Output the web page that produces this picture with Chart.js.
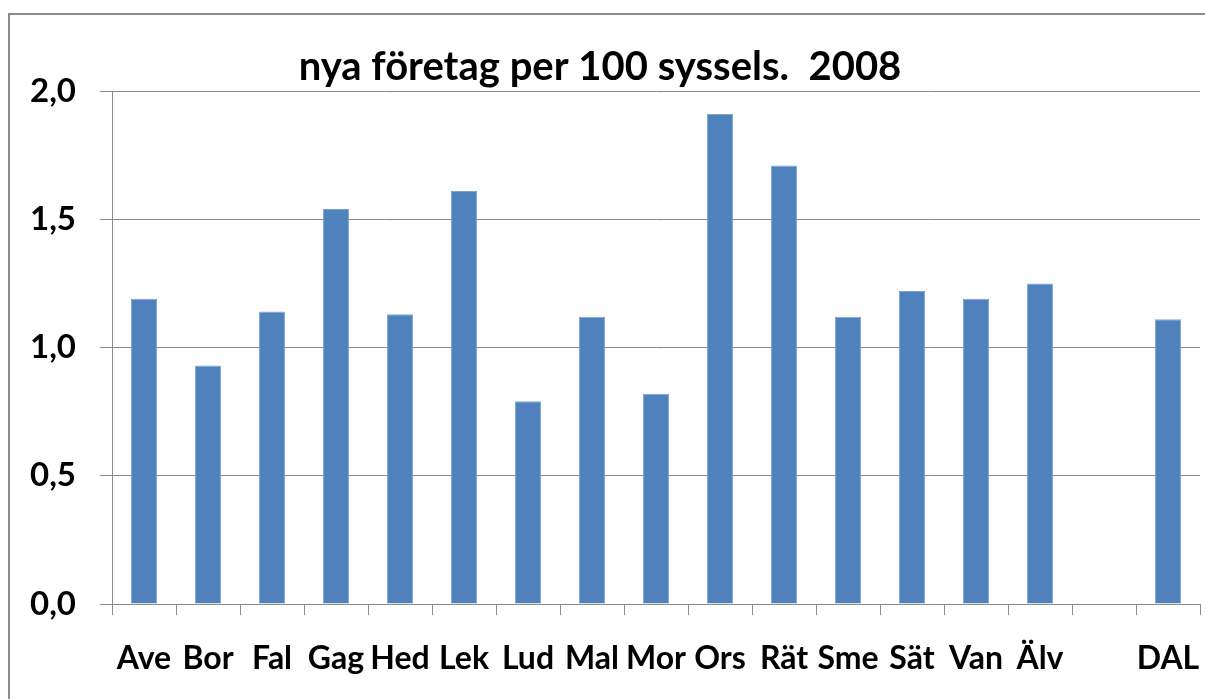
<!DOCTYPE html>
<html>
<head>
<meta charset="utf-8">
<script src="https://cdn.jsdelivr.net/npm/chart.js@4"></script>
<style>
    body { margin: 0; background: #fff; overflow: hidden; }
    .frame {
        position: absolute; left: 8px; top: 13px; width: 1300px; height: 800px;
        border: 2px solid #8c8c8c;
    }
    .chart-box { position: absolute; left: 0; top: 0; width: 1205px; height: 699px; }
</style>
</head>
<body>
<div class="frame"></div>
<div class="chart-box"><canvas id="chart"></canvas></div>
<script>
// Chart data
const categories = ['Ave', 'Bor', 'Fal', 'Gag', 'Hed', 'Lek', 'Lud', 'Mal', 'Mor', 'Ors', 'Rät', 'Sme', 'Sät', 'Van', 'Älv', '', 'DAL'];
const newCompanies = [1.19, 0.93, 1.14, 1.54, 1.13, 1.61, 0.79, 1.12, 0.82, 1.91, 1.71, 1.12, 1.22, 1.19, 1.25, null, 1.11];
const yTicks = [0, 0.5, 1.0, 1.5, 2.0];

const titleText = 'nya företag per 100 syssels.  2008';
const fontFamily = 'Lato, "Open Sans", sans-serif';

const ctx = document.getElementById('chart');
new Chart(ctx, {
    type: 'bar',
    data: {
        labels: categories,
        datasets: [{
            data: newCompanies,
            backgroundColor: '#4f81bd',
            borderColor: '#7fa3d0',
            borderWidth: { top: 1, left: 1, right: 1, bottom: 0 },
            barPercentage: 0.41,
            categoryPercentage: 1.0
        }]
    },
    options: {
        responsive: true,
        maintainAspectRatio: false,
        animation: false,
        layout: { padding: { left: 0, right: 5, top: 0, bottom: 0 } },
        plugins: {
            legend: { display: false },
            tooltip: { enabled: false },
            title: {
                display: true,
                text: titleText,
                color: '#000',
                font: { family: fontFamily, size: 40, weight: 'bold' },
                padding: { top: 43, bottom: 0 }
            }
        },
        scales: {
            x: {
                grid: {
                    offset: true,
                    drawOnChartArea: false,
                    color: '#8c8c8c',
                    tickLength: 11
                },
                border: { color: '#8c8c8c', width: 1 },
                ticks: {
                    color: '#000',
                    autoSkip: false,
                    maxRotation: 0,
                    padding: 24,
                    font: { family: fontFamily, size: 32, weight: 'bold' }
                },
                afterFit: (scale) => {
                    scale.height = 95;
                    scale.paddingLeft = 0;
                    scale.paddingRight = 0;
                }
            },
            y: {
                min: 0,
                max: 2,
                afterBuildTicks: (scale) => {
                    scale.ticks = yTicks.map(v => ({ value: v }));
                },
                grid: {
                    color: '#8c8c8c',
                    tickLength: 12
                },
                border: { color: '#8c8c8c', width: 1 },
                ticks: {
                    color: '#000',
                    padding: 24,
                    font: { family: fontFamily, size: 33, weight: 'bold' },
                    callback: (v) => Number(v).toFixed(1).replace('.', ',')
                },
                afterFit: (scale) => {
                    scale.width = 112;
                    scale.paddingTop = 0;
                    scale.paddingBottom = 0;
                }
            }
        }
    }
});
</script>
</body>
</html>
